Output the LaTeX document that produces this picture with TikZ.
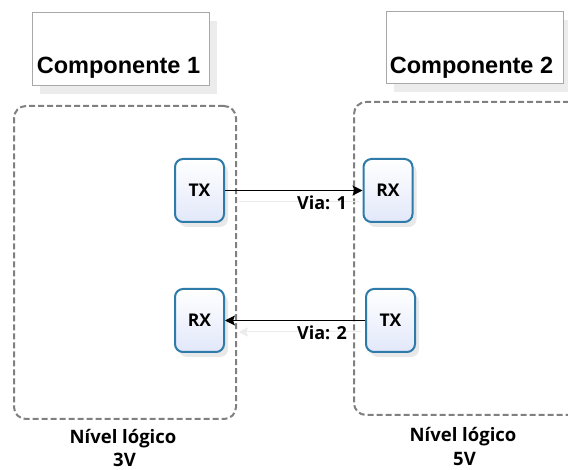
\documentclass[tikz,border=0pt]{standalone}
\usepackage{fontspec}
\setmainfont{Liberation Sans}
\newfontfamily\segoe{Open Sans}
\usetikzlibrary{shadows,arrows.meta}
\definecolor{nodeborder}{HTML}{2E7BAA}
\definecolor{nodebottom}{HTML}{E2E8FA}
\definecolor{dashgray}{HTML}{808080}
\definecolor{titleborder}{HTML}{A8A8A8}
\definecolor{ghost}{HTML}{EBEBEB}
\tikzset{
  titlebox/.style={draw=titleborder, line width=1pt, fill=white, inner sep=0pt,
    minimum width=177pt, minimum height=73pt,
    drop shadow={opacity=0.15, shadow xshift=8pt, shadow yshift=-8pt}},
  titletext/.style={font=\bfseries\fontsize{23.5pt}{27pt}\selectfont, anchor=base, inner sep=0pt},
  zone/.style={draw=dashgray, line width=2pt, dash pattern=on 6pt off 3pt,
    rounded corners=12pt, inner sep=0pt},
  port/.style={draw=nodeborder, line width=2pt, rounded corners=8pt,
    top color=white, bottom color=nodebottom, minimum width=49pt, minimum height=63pt,
    inner sep=0pt, font=\segoe\bfseries\fontsize{17.5pt}{20pt}\selectfont,
    drop shadow={opacity=0.18, shadow xshift=4pt, shadow yshift=-5pt}},
  lbl/.style={font=\segoe\bfseries\fontsize{18pt}{21pt}\selectfont, anchor=base, inner sep=0pt},
  lvl/.style={font=\segoe\bfseries\fontsize{18.5pt}{21pt}\selectfont, anchor=base, inner sep=0pt},
  link/.style={line width=1pt, -{Stealth[length=10pt,width=10pt,inset=2pt]}},
  ghostline/.style={draw=ghost, line width=1pt}
}
\begin{document}
\begin{tikzpicture}[x=1pt,y=-1pt]
\useasboundingbox (0,0) rectangle (568,470);
\clip (0,0) rectangle (568,470);
\fill[white] (0,0) rectangle (568,470);
% titles
\node[titlebox] (c1box) at (120.5,49.5) {};
\node[titletext] (c1) at (118.5,74) {Componente 1};
\node[titlebox, minimum height=72pt] (c2box) at (474.5,48) {};
\node[titletext] (c2) at (471.5,74) {Componente 2};
% zones
\node[zone, minimum width=222pt, minimum height=313pt] (z1) at (125,262.5) {};
\node[zone, minimum width=236pt, minimum height=313pt] (z2) at (472,258.5) {};
% ports
\node[port] (tx1) at (199.5,190.5) {TX};
\node[port] (rx1) at (388,190.5) {RX};
\node[port] (rx2) at (199.5,320.5) {RX};
\node[port] (tx2) at (390.5,320.5) {TX};
% ghost shadows of links
\draw[ghostline] ([shift={(14,11.5)}]tx1.east) -- ([shift={(-4,11.5)}]rx1.west);
\draw[ghostline, -{Stealth[length=9pt,width=9pt,inset=2pt]}] ([shift={(-4,11.5)}]tx2.west) -- ([shift={(14,11.5)}]rx2.east);
% links
\draw[link] (tx1.east) -- (rx1.west);
\draw[link] (tx2.west) -- (rx2.east);
\node[lbl] (v1) at (322,210) {Via: 1};
\node[lbl] (v2) at (322,340) {Via: 2};
% levels
\node[lvl] (n1) at (123,443) {Nível lógico};
\node[lvl] (n1v) at (124.5,466) {3V};
\node[lvl] (n2) at (463,442) {Nível lógico};
\node[lvl] (n2v) at (464.5,465) {5V};
\end{tikzpicture}
\end{document}
